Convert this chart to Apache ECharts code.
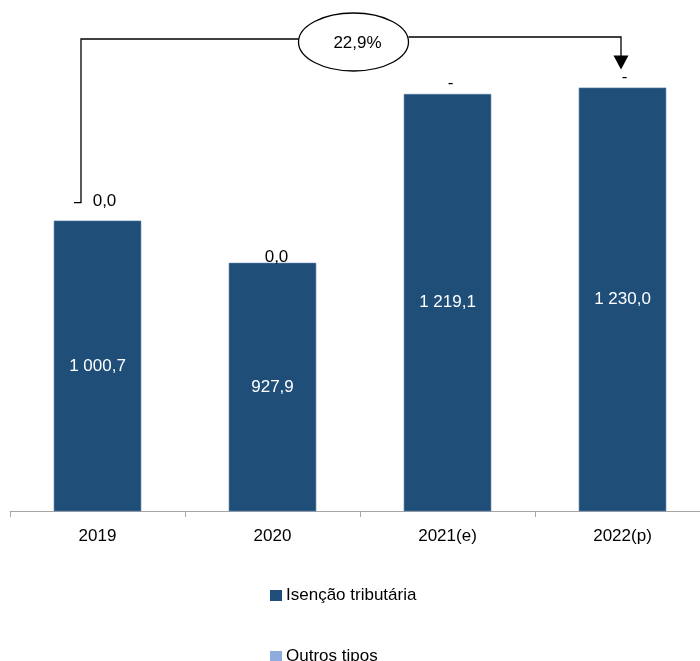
<!DOCTYPE html>
<html>
<head>
<meta charset="utf-8">
<script src="https://cdn.jsdelivr.net/npm/echarts@6/dist/echarts.min.js"></script>
<style>html,body{margin:0;padding:0;background:#fff;overflow:hidden;width:700px;height:661px;}#c{width:710px;height:661px;}</style>
</head>
<body>
<div id="c"></div>
<script>
var categories = ['2019', '2020', '2021(e)', '2022(p)'];
var isencaoValues = [1000.7, 927.9, 1219.1, 1230.0];
var outrosValues = [0.0, 0.0, 0, 0];
var outrosLabels = ['0,0', '0,0', '-', '-'];
var growthLabel = '22,9%';

var FONT = 'Liberation Sans';
function fmtPt(v) {
  var s = v.toFixed(1).split('.');
  var intPart = s[0].replace(/\B(?=(\d{3})+(?!\d))/g, ' ');
  return intPart + ',' + s[1];
}
var outrosLabelOffsets = [[7, -6], [4, 8], [3, 3], [2, 3]];

function legendCfg(name, top) {
  return {
    orient: 'vertical',
    left: 270,
    top: top,
    padding: 0,
    itemWidth: 12,
    itemHeight: 11,
    icon: 'rect',
    itemStyle: {borderWidth: 0},
    textStyle: {fontFamily: FONT, fontSize: 17, color: '#000', padding: [0, 0, 0, -1]},
    data: [name]
  };
}

var chart = echarts.init(document.getElementById('c'), null, {renderer: 'canvas'});
var option = {
  animation: false,
  backgroundColor: '#ffffff',
  textStyle: {fontFamily: FONT},
  grid: {left: 10, right: 0, top: 47, bottom: 150, containLabel: false},
  legend: [legendCfg('Isenção tributária', 587), legendCfg('Outros tipos', 648)],
  xAxis: {
    type: 'category',
    data: categories,
    boundaryGap: true,
    axisLine: {lineStyle: {color: '#a6a6a6', width: 1}},
    axisTick: {show: true, length: 6, lineStyle: {color: '#a6a6a6'}},
    axisLabel: {fontFamily: FONT, fontSize: 17, color: '#000', margin: 17}
  },
  yAxis: {
    type: 'value',
    min: 500,
    max: 1300,
    show: false,
    splitLine: {show: false}
  },
  series: [
    {
      name: 'Isenção tributária',
      type: 'bar',
      stack: 'total',
      barWidth: '50%',
      data: isencaoValues,
      itemStyle: {color: '#1F4E79', borderColor: '#5a7fa8', borderWidth: 0.6},
      label: {
        show: true,
        position: 'inside',
        fontFamily: FONT,
        fontSize: 17,
        color: '#ffffff',
        formatter: function (p) { return fmtPt(p.value); }
      }
    },
    {
      name: 'Outros tipos',
      type: 'bar',
      stack: 'total',
      barWidth: '50%',
      itemStyle: {color: '#8FAADC'},
      data: outrosValues.map(function (v, i) {
        return {
          value: v,
          label: {
            show: true,
            position: 'top',
            distance: 5,
            offset: outrosLabelOffsets[i],
            fontFamily: FONT,
            fontSize: 17,
            color: '#000',
            formatter: outrosLabels[i]
          }
        };
      })
    }
  ]
};
chart.setOption(option);

function drawAnnotation() {
  var x0 = chart.convertToPixel({xAxisIndex: 0}, categories[0]);
  var x1 = chart.convertToPixel({xAxisIndex: 0}, categories[1]);
  var x2 = chart.convertToPixel({xAxisIndex: 0}, categories[2]);
  var x3 = chart.convertToPixel({xAxisIndex: 0}, categories[3]);
  var y0 = chart.convertToPixel({yAxisIndex: 0}, isencaoValues[0]);
  var y3 = chart.convertToPixel({yAxisIndex: 0}, isencaoValues[3]);
  var lx = x0 - 16.5;
  var ly = y0 - 18;
  var topL = 39;
  var topR = 37;
  var cx = (x1 + x2) / 2 - 6.5;
  var cy = 42;
  var rx = 55, ry = 29;
  var ax = x3 - 1.5;
  var tipY = y3 - 18;
  var lineStyle = {stroke: '#000', lineWidth: 1.3};
  chart.setOption({
    graphic: [
      {type: 'polyline', shape: {points: [[lx - 7, ly], [lx, ly], [lx, topL], [cx - rx, topL]]}, style: lineStyle, silent: true},
      {type: 'polyline', shape: {points: [[cx + rx, topR], [ax, topR], [ax, tipY - 12]]}, style: lineStyle, silent: true},
      {type: 'polygon', shape: {points: [[ax - 7.5, tipY - 14], [ax + 7.5, tipY - 14], [ax, tipY]]}, style: {fill: '#000'}, silent: true},
      {type: 'ellipse', shape: {cx: cx, cy: cy, rx: rx, ry: ry}, style: {fill: '#fff', stroke: '#000', lineWidth: 1.3}, silent: true},
      {type: 'text', x: cx + 4, y: cy + 1, style: {text: growthLabel, fontFamily: FONT, fontSize: 17, fill: '#000', align: 'center', verticalAlign: 'middle'}, silent: true}
    ]
  });
}
drawAnnotation();
</script>
</body>
</html>
